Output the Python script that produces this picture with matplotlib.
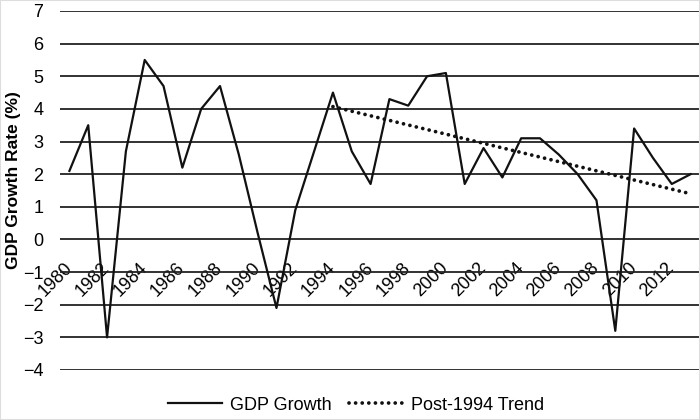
import matplotlib
matplotlib.use("Agg")
import matplotlib.pyplot as plt
import numpy as np

plt.rcParams['font.family'] = ['Liberation Sans', 'DejaVu Sans']

years = list(range(1980, 2014))
gdp_growth = [2.1, 3.5, -3.0, 2.7, 5.5, 4.7, 2.2, 4.0, 4.7, 2.6,
              0.2, -2.1, 0.9, 2.7, 4.5, 2.7, 1.7, 4.3, 4.1, 5.0,
              5.1, 1.7, 2.8, 1.9, 3.1, 3.1, 2.6, 2.0, 1.2, -2.8,
              3.4, 2.5, 1.7, 2.0]
trend_years = [1994, 2013]
trend_values = [4.07, 1.40]
tick_years = years[::2]
y_ticks = list(range(-4, 8))

fig = plt.figure(figsize=(7, 4.2), dpi=100)
ax = fig.add_axes([60/700, 1 - 370/420, 640/700, 359/420])

xpos = np.arange(len(years))
ax.plot(xpos, gdp_growth, color='#111111', lw=1.6, label='GDP Growth', zorder=3)
tx = [years.index(y) for y in trend_years]
ax.plot(tx, trend_values, color='#111111', lw=2.7, linestyle=(0, (0.01, 1.75)),
        dash_capstyle='round', label='Post-1994 Trend', zorder=4)

ax.set_xlim(-0.5, len(years) - 0.5)
ax.set_ylim(-4, 7)
ax.set_yticks(y_ticks)
ax.yaxis.grid(True, color='#222222', lw=1.3)
ax.set_axisbelow(True)
for s in ['top', 'right', 'left']:
    ax.spines[s].set_visible(False)
ax.spines['bottom'].set_position(('data', 0))
ax.spines['bottom'].set_visible(False)

ax.set_xticks([years.index(y) for y in tick_years])
ax.set_xticklabels([str(y) for y in tick_years], rotation=45, ha='right',
                   va='center', rotation_mode='anchor', fontsize=13)
ax.tick_params(axis='x', length=0, pad=18.5)
ax.tick_params(axis='y', length=0, pad=12, labelsize=13)

ax.set_ylabel('GDP Growth Rate (%)', fontsize=12.5, fontweight='bold')
ax.yaxis.label.set_va('center')
ax.yaxis.set_label_coords((14 - 60) / 640, 0.53)

fig.legend(loc='center', bbox_to_anchor=(356/700, 1 - 405/420), ncol=2,
           frameon=False, fontsize=13, handlelength=3.0, handletextpad=0.4,
           columnspacing=1.0)

fig.patches.append(plt.Rectangle((0, 0), 1, 1, transform=fig.transFigure,
                                 fill=False, edgecolor='#dddddd', lw=1.5))

fig.savefig('out.png', dpi=100)
